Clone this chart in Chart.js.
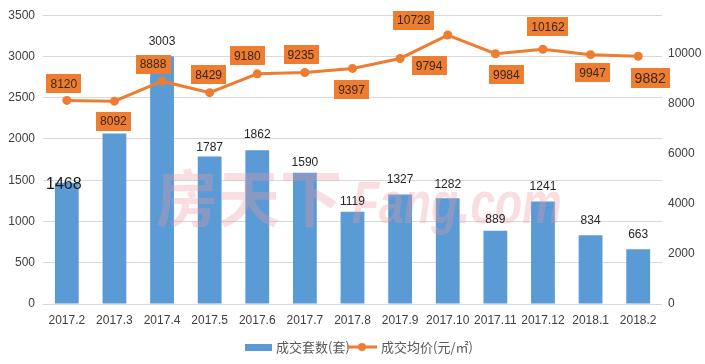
<!DOCTYPE html>
<html>
<head>
<meta charset="utf-8">
<script src="https://cdn.jsdelivr.net/npm/chart.js@4/dist/chart.umd.min.js"></script>
<style>
  html, body { margin: 0; padding: 0; background: #fff; overflow: hidden; }
  #myChart { display: block; }
</style>
</head>
<body>
<canvas id="myChart" width="705" height="364"></canvas>
<script>
const months = ["2017.2", "2017.3", "2017.4", "2017.5", "2017.6", "2017.7", "2017.8",
  "2017.9", "2017.10", "2017.11", "2017.12", "2018.1", "2018.2"];
const deals = [1468, 2066, 3003, 1787, 1862, 1590, 1119, 1327, 1282, 889, 1241, 834, 663];
const prices = [8120, 8092, 8888, 8429, 9180, 9235, 9397, 9794, 10728, 9984, 10162, 9947, 9882];
const leftTicks = [0, 500, 1000, 1500, 2000, 2500, 3000, 3500];
const rightTicks = [0, 2000, 4000, 6000, 8000, 10000];
const seriesNames = ["成交套数(套)", "成交均价(元/㎡)"];

// label placement (pixels, relative to the bar top / line point)
const barLabelDy = [2, -12, -15, -9, -16, -10, -10, -15, -14, -11, -15, -14, -15];
const priceLabelOff = [[-3, -17], [-1, 20], [-9, -17], [-1, -18], [-10, -18], [-4, -18],
  [-1, 21], [29, 7], [-34, -15], [11, 21], [5, -23], [2, 18], [12, 22]];

const BLUE = "#5B9BD5";
const ORANGE = "#ED7D31";
const NUM_FONT = "'Liberation Sans', Arial, sans-serif";
const CJK_FONT = "'Noto Sans CJK SC', sans-serif";

const labelPlugin = {
  id: "labels",
  afterDatasetsDraw(chart) {
    const c = chart.ctx;

    // watermark
    c.save();
    c.fillStyle = "rgba(232, 150, 162, 0.32)";
    c.textBaseline = "alphabetic";
    c.textAlign = "left";
    c.font = "bold 62px " + CJK_FONT;
    c.fillText("房天下", 156, 222);
    c.translate(352, 223);
    c.scale(0.74, 1);
    c.font = "italic bold 60px " + NUM_FONT;
    c.fillText("Fang.com", 0, 0);
    c.restore();

    // bar labels
    const bars = chart.getDatasetMeta(0).data;
    c.save();
    c.textAlign = "center";
    c.textBaseline = "middle";
    bars.forEach((b, i) => {
      if (i === 0) {
        c.font = "16px " + NUM_FONT;
        c.fillStyle = "#1a1a1a";
        c.fillText(String(deals[i]), b.x - 3, b.y + barLabelDy[i]);
      } else {
        c.font = "12px " + NUM_FONT;
        c.fillStyle = "#262626";
        c.fillText(String(deals[i]), b.x, b.y + barLabelDy[i]);
      }
    });
    c.restore();

    // price labels in boxes
    const pts = chart.getDatasetMeta(1).data;
    c.save();
    c.textAlign = "center";
    c.textBaseline = "middle";
    pts.forEach((p, i) => {
      const last = i === pts.length - 1;
      c.font = (last ? "14px " : "12px ") + NUM_FONT;
      const txt = String(prices[i]);
      const w = c.measureText(txt).width + 8;
      const h = last ? 20 : 19;
      const cx = p.x + priceLabelOff[i][0];
      const cy = p.y + priceLabelOff[i][1];
      c.fillStyle = ORANGE;
      c.fillRect(Math.round(cx - w / 2), Math.round(cy - h / 2), Math.round(w), h);
      c.fillStyle = "#3b2616";
      c.fillText(txt, cx, cy + 1);
    });
    c.restore();
  },
  afterDraw(chart) {
    // legend
    const c = chart.ctx;
    const y = 347;
    c.save();
    c.fillStyle = BLUE;
    c.fillRect(245, y - 3, 27, 7);
    c.font = "13px " + CJK_FONT;
    c.fillStyle = "#595959";
    c.textBaseline = "middle";
    c.textAlign = "left";
    c.fillText(seriesNames[0], 276, y);
    c.strokeStyle = ORANGE;
    c.lineWidth = 3;
    c.beginPath();
    c.moveTo(347, y);
    c.lineTo(377, y);
    c.stroke();
    c.fillStyle = ORANGE;
    c.beginPath();
    c.arc(362, y, 4, 0, Math.PI * 2);
    c.fill();
    c.fillStyle = "#595959";
    c.fillText(seriesNames[1], 381, y);
    c.restore();
  }
};

const ctx = document.getElementById("myChart");

new Chart(ctx, {
  type: "bar",
  data: {
    labels: months,
    datasets: [
      {
        type: "bar",
        label: seriesNames[0],
        data: deals,
        backgroundColor: BLUE,
        yAxisID: "y",
        order: 1,
        categoryPercentage: 1,
        barPercentage: 0.5,
      },
      {
        type: "line",
        label: seriesNames[1],
        data: prices,
        borderColor: ORANGE,
        backgroundColor: ORANGE,
        borderWidth: 3,
        pointRadius: 4.5,
        pointBackgroundColor: ORANGE,
        pointBorderWidth: 0,
        yAxisID: "y1",
        order: 0,
      },
    ],
  },
  options: {
    responsive: false,
    animation: false,
    devicePixelRatio: 1,
    layout: { padding: { top: 9, bottom: 32, left: 0, right: 0 } },
    plugins: {
      legend: { display: false },
      tooltip: { enabled: false },
    },
    scales: {
      x: {
        grid: { display: false, drawTicks: false },
        border: { display: false },
        ticks: {
          color: "#404040",
          font: { family: NUM_FONT, size: 12 },
          padding: 9,
          maxRotation: 0,
          autoSkip: false,
        },
        afterFit(s) { s.height = 28; },
      },
      y: {
        position: "left",
        min: 0,
        max: 3500,
        afterBuildTicks(s) { s.ticks = leftTicks.map(v => ({ value: v })); },
        grid: { color: "#d9d9d9", drawTicks: false },
        border: { display: false },
        ticks: {
          color: "#404040",
          font: { family: NUM_FONT, size: 12 },
          padding: 8,
          callback: v => String(v),
        },
        afterFit(s) { s.width = 43; },
      },
      y1: {
        position: "right",
        min: 0,
        max: 11520,
        afterBuildTicks(s) { s.ticks = rightTicks.map(v => ({ value: v })); },
        grid: { display: false, drawTicks: false },
        border: { display: false },
        ticks: {
          color: "#404040",
          font: { family: NUM_FONT, size: 12 },
          padding: 6,
          callback: v => String(v),
        },
        afterFit(s) { s.width = 43; },
      },
    },
  },
  plugins: [labelPlugin],
});
</script>
</body>
</html>
